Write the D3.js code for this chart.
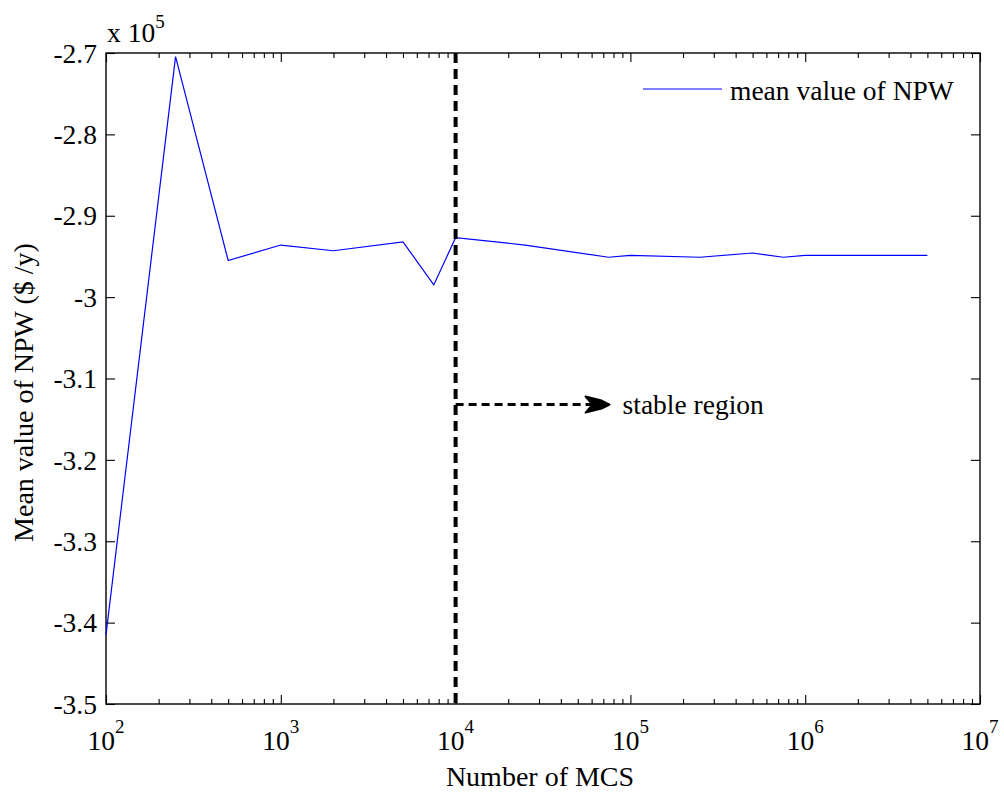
<!DOCTYPE html>
<html>
<head>
<meta charset="utf-8">
<script src="https://cdn.jsdelivr.net/npm/d3@7"></script>
<style>
  body { margin: 0; background: #fff; }
  text { font-family: "Liberation Serif", "Times New Roman", serif; fill: #000; }
</style>
</head>
<body>
<div id="chart"></div>
<script>
// number of Monte Carlo simulations and mean NPW (x 10^5 $/y)
const mcsCounts = [100, 250, 500, 1000, 2000, 5000, 7500, 10000, 25000, 75000,
                   100000, 250000, 500000, 750000, 1000000, 5000000];
const meanNPW = [-3.415, -2.7045, -2.955, -2.936, -2.943, -2.932, -2.985, -2.927,
                 -2.936, -2.951, -2.9486, -2.951, -2.9458, -2.951, -2.9486, -2.9486];

const yTicks = [-3.5, -3.4, -3.3, -3.2, -3.1, -3.0, -2.9, -2.8, -2.7];
const yTickLabels = ["-3.5", "-3.4", "-3.3", "-3.2", "-3.1", "-3", "-2.9", "-2.8", "-2.7"];
const xDecades = [2, 3, 4, 5, 6, 7];

const seriesName = "mean value of NPW";
const stableStart = 10000, stableArrowEnd = 76000, stableLevel = -3.132;
const stableLabel = "stable region";

var margin = {top: 53, right: 24, bottom: 89, left: 106},
  width = 1004 - margin.left - margin.right,
  height = 793 - margin.top - margin.bottom;

var svg = d3.select("#chart")
  .append("svg")
    .attr("width", 1004)
    .attr("height", 793)
  .append("g")
    .attr("transform", "translate(" + margin.left + "," + margin.top + ")");

var x = d3.scaleLog()
  .domain([1e2, 1e7])
  .range([0, width]);

var y = d3.scaleLinear()
  .domain([-3.5, -2.7])
  .range([height, 0]);

var isMajor = function(d) { return Math.abs(Math.log10(d) - Math.round(Math.log10(d))) < 1e-9; };
var minorX = x.ticks().filter(function(d) { return !isMajor(d); });
var majorX = xDecades.map(function(k) { return Math.pow(10, k); });

// ticks pointing inward on all four sides
function tickAxis(axis, vals, size) {
  return axis.tickValues(vals).tickSize(-size).tickSizeOuter(0).tickFormat("");
}
var axes = [
  [tickAxis(d3.axisBottom(x), minorX, 5), "translate(0," + height + ")"],
  [tickAxis(d3.axisBottom(x), majorX, 9), "translate(0," + height + ")"],
  [tickAxis(d3.axisTop(x), minorX, 5), null],
  [tickAxis(d3.axisTop(x), majorX, 9), null],
  [tickAxis(d3.axisLeft(y), yTicks, 9), null],
  [tickAxis(d3.axisRight(y), yTicks, 9), "translate(" + width + ",0)"]
];
axes.forEach(function(a) {
  var g = svg.append("g").call(a[0]);
  if (a[1]) g.attr("transform", a[1]);
  g.select(".domain").remove();
  g.selectAll(".tick line").attr("stroke", "#000").attr("stroke-width", 1.1);
});

// frame
svg.append("rect")
  .attr("x", 0).attr("y", 0)
  .attr("width", width).attr("height", height)
  .attr("fill", "none")
  .attr("stroke", "#000")
  .attr("stroke-width", 1.4);

// y tick labels
svg.append("g").selectAll("text")
  .data(yTicks)
  .enter().append("text")
    .attr("x", -9)
    .attr("y", function(d) { return y(d); })
    .attr("dy", "0.35em")
    .attr("text-anchor", "end")
    .style("font-size", "27.5px")
    .text(function(d, i) { return yTickLabels[i]; });

// x tick labels 10^k
var xl = svg.append("g").selectAll("text")
  .data(xDecades)
  .enter().append("text")
    .attr("x", function(k) { return x(Math.pow(10, k)); })
    .attr("y", height + 46)
    .attr("text-anchor", "middle")
    .style("font-size", "27.5px");
xl.append("tspan").text("10");
xl.append("tspan").attr("dy", -17).style("font-size", "19px").text(function(k) { return k; });

// scale factor
var sf = svg.append("text")
  .attr("x", 1)
  .attr("y", -11)
  .style("font-size", "27.5px");
sf.append("tspan").text("x 10");
sf.append("tspan").attr("dy", -14).style("font-size", "19px").text("5");

// axis titles
svg.append("text")
  .attr("x", width / 2 - 3)
  .attr("y", height + 82)
  .attr("text-anchor", "middle")
  .style("font-size", "28px")
  .text("Number of MCS");

svg.append("text")
  .attr("transform", "translate(" + (-73) + "," + (height / 2 + 14) + ") rotate(-90)")
  .attr("text-anchor", "middle")
  .style("font-size", "28px")
  .text("Mean value of NPW ($ /y)");

// series line
svg.append("path")
  .datum(mcsCounts)
  .attr("fill", "none")
  .attr("stroke", "#0000ff")
  .attr("stroke-width", 1.2)
  .attr("d", d3.line()
    .x(function(d) { return x(d); })
    .y(function(d, i) { return y(meanNPW[i]); })
  );

// stable region marker
svg.append("line")
  .attr("x1", x(stableStart)).attr("x2", x(stableStart))
  .attr("y1", y(-2.7)).attr("y2", y(-3.5))
  .attr("stroke", "#000")
  .attr("stroke-width", 4)
  .attr("stroke-dasharray", "10,6");

var tipX = x(stableArrowEnd), tipY = y(stableLevel);
svg.append("line")
  .attr("x1", x(stableStart)).attr("x2", tipX - 16)
  .attr("y1", tipY).attr("y2", tipY)
  .attr("stroke", "#000")
  .attr("stroke-width", 3)
  .attr("stroke-dasharray", "8,5");

svg.append("path")
  .attr("transform", "translate(" + tipX + "," + tipY + ")")
  .attr("d", "M0,0 L-8,-4 L-24,-8 L-17,0 L-24,8 L-8,4 Z")
  .attr("fill", "#000")
  .attr("stroke", "#000")
  .attr("stroke-width", 2)
  .attr("stroke-linejoin", "round");

svg.append("text")
  .attr("x", tipX + 13)
  .attr("y", tipY + 9)
  .style("font-size", "27.5px")
  .text(stableLabel);

// legend
var lg = svg.append("g")
  .attr("transform", "translate(" + (width - 337) + ",36)");
lg.append("line")
  .attr("x1", 0).attr("x2", 79)
  .attr("y1", 0).attr("y2", 0)
  .attr("stroke", "#0000ff")
  .attr("stroke-width", 1.2);
lg.append("text")
  .attr("x", 87)
  .attr("y", 11)
  .style("font-size", "27.5px")
  .text(seriesName);
</script>
</body>
</html>
